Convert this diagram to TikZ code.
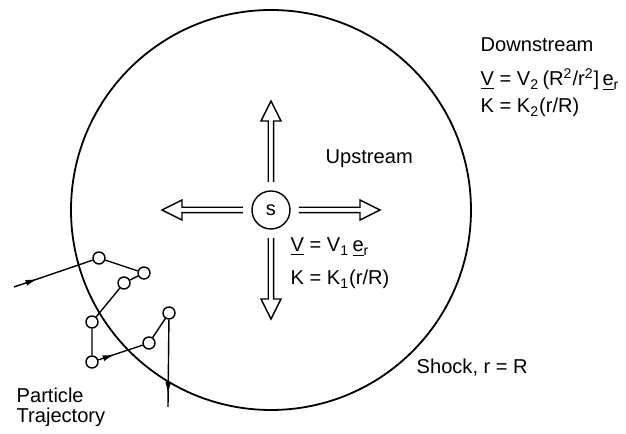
\documentclass[tikz,border=0pt]{standalone}
\usepackage{fontspec}
\setmainfont{Liberation Sans}
\usetikzlibrary{arrows.meta,decorations.markings}
\tikzset{
	radarrow/.pic={\draw[line join=miter] (0.28,0.027)--(0.89,0.027)--(0.89,0.1)--(1.09,0)--(0.89,-0.1)--(0.89,-0.027)--(0.28,-0.027);},
	dot/.style={circle,draw,fill=white,inner sep=0pt,minimum size=0.21cm},
	lbl/.style={anchor=base west,inner sep=0pt},
	midarrow/.style={postaction={decorate},decoration={markings,mark=at position #1 with {\arrow{Latex[length=6pt,width=3pt]}}}}
}
\begin{document}
\begin{tikzpicture}[x=1.75cm,y=1.75cm,line width=0.7pt,font=\fontsize{10}{12}\selectfont]
			\useasboundingbox (-2.71,-2.24) rectangle (3.55,2.10);
			\draw[line width=0.9pt] (0,0) circle (2);
			\node[circle,draw,inner sep=0pt,minimum size=0.665cm] (s) at (0,0) {s};
			\foreach \a in {0,90,180,270} \pic[rotate=\a] at (s) {radarrow};
			\node[lbl] (up) at (0.54,0.46) {Upstream};
			\node[lbl] (upV) at (0.19,-0.42) {\underline{V} = V\textsubscript{1}\,\underline{e}\textsubscript{r}};
			\node[lbl] (upK) at (0.19,-0.75) {K = K\textsubscript{1}(r/R)};
			\node[lbl] (down) at (2.09,1.58) {Downstream};
			\node[lbl] (downV) at (2.09,1.24) {\underline{V} = V\textsubscript{2}\,(R\textsuperscript{2}/r\textsuperscript{2}]\,\underline{e}\textsubscript{r}};
			\node[lbl] (downK) at (2.09,0.97) {K = K\textsubscript{2}(r/R)};
			\node[lbl] (shock) at (1.45,-1.64) {Shock, r = R};
			\node[lbl] (part) at (-2.55,-1.93) {Particle};
			\node[lbl] (traj) at (-2.55,-2.13) {Trajectory};
			\coordinate (start) at (-2.57,-0.77);
			\coordinate (end) at (-1.03,-1.97);
			\node[dot] (p1) at (-1.72,-0.48) {};
			\node[dot] (p2) at (-1.27,-0.63) {};
			\node[dot] (p3) at (-1.47,-0.73) {};
			\node[dot] (p4) at (-1.79,-1.12) {};
			\node[dot] (p5) at (-1.79,-1.52) {};
			\node[dot] (p6) at (-1.22,-1.33) {};
			\node[dot] (p7) at (-1.02,-1.03) {};
			\draw[midarrow=0.3] (start)--(p1);
			\draw (p1)--(p2)--(p3)--(p4)--(p5);
			\draw[midarrow=0.37] (p5)--(p6);
			\draw (p6)--(p7);
			\draw[midarrow=0.85] (p7)--(end);
		\end{tikzpicture}
\end{document}
